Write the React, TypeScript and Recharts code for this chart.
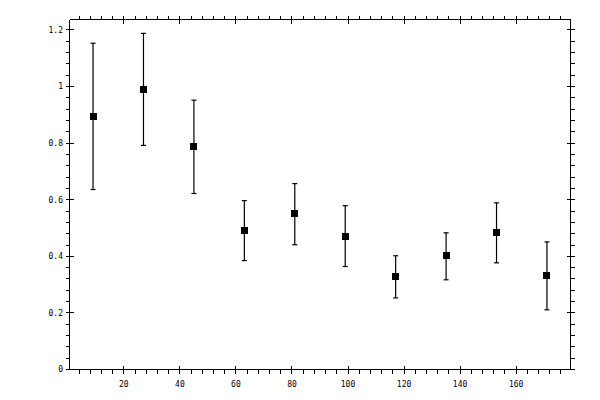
import React from "react";
import { ScatterChart, Scatter, XAxis, YAxis, ErrorBar } from "recharts";

// bin centres and measured values
const binCentres = [9, 27, 45, 63, 81, 99, 117, 135, 153, 171];
const meanValues = [0.894, 0.99, 0.788, 0.491, 0.551, 0.47, 0.327, 0.402, 0.483, 0.331];
const lowValues = [0.636, 0.792, 0.622, 0.385, 0.441, 0.364, 0.253, 0.317, 0.377, 0.211];
const highValues = [1.153, 1.188, 0.952, 0.597, 0.657, 0.579, 0.402, 0.483, 0.589, 0.451];

const xMajorTicks = [20, 40, 60, 80, 100, 120, 140, 160];
const yMajorTicks = [0, 0.2, 0.4, 0.6, 0.8, 1, 1.2];
const yTickLabels = ["0", "0.2", "0.4", "0.6", "0.8", "1", "1.2"];

const X_DOMAIN: [number, number] = [0.6, 179.4];
const Y_DOMAIN: [number, number] = [0, 1.237];

// minor ticks every 4 on x, every 0.04 on y
const xAllTicks = Array.from({ length: 44 }, (_, i) => (i + 1) * 4);
const yAllTicks = Array.from({ length: 31 }, (_, i) => Math.round(i * 4) / 100);

const isMajorX = (v: number) => xMajorTicks.includes(v);
const majorYIndex = (v: number) => yMajorTicks.findIndex((t) => Math.abs(t - v) < 1e-6);

const data = binCentres.map((x, i) => ({
  x,
  y: meanValues[i],
  err: [meanValues[i] - lowValues[i], highValues[i] - meanValues[i]],
}));

const FONT = "'DejaVu Sans Mono', monospace";
const T = 4;

function BottomTick(props: any) {
  const { x, y, payload } = props;
  const major = isMajorX(payload.value);
  return (
    <g>
      <line x1={x} x2={x} y1={major ? y - T : y} y2={y + T} stroke="#000" strokeWidth={1} shapeRendering="crispEdges" />
      {major && (
        <text x={x} y={y + 17} textAnchor="middle" fontSize={8} fontFamily={FONT} fill="#000">
          {payload.value}
        </text>
      )}
    </g>
  );
}

function TopTick(props: any) {
  const { x, y, payload } = props;
  const major = isMajorX(payload.value);
  return <line x1={x} x2={x} y1={y - T} y2={major ? y + T : y} stroke="#000" strokeWidth={1} shapeRendering="crispEdges" />;
}

function LeftTick(props: any) {
  const { x, y, payload } = props;
  const idx = majorYIndex(payload.value);
  return (
    <g>
      <line x1={x - T} x2={idx >= 0 ? x + T : x} y1={y} y2={y} stroke="#000" strokeWidth={1} shapeRendering="crispEdges" />
      {idx >= 0 && (
        <text x={x - 6.5} y={y + 2.8} textAnchor="end" fontSize={8} fontFamily={FONT} fill="#000">
          {yTickLabels[idx]}
        </text>
      )}
    </g>
  );
}

function RightTick(props: any) {
  const { x, y, payload } = props;
  const major = majorYIndex(payload.value) >= 0;
  return <line x1={major ? x - T : x} x2={x + T} y1={y} y2={y} stroke="#000" strokeWidth={1} shapeRendering="crispEdges" />;
}

function SquareMarker(props: any) {
  const { cx, cy } = props;
  return <rect x={cx - 3.5} y={cy - 3.5} width={7} height={7} fill="#000" shapeRendering="crispEdges" />;
}

export default function App() {
  const axisLine = { stroke: "#000", strokeWidth: 1, shapeRendering: "crispEdges" };
  return (
    <div style={{ position: "absolute", left: 0, top: 0, width: 600, height: 400, background: "#fff" }}>
      <ScatterChart
        width={600}
        height={400}
        margin={{ top: 18.5, right: 28.5, bottom: 29.5, left: 68.5 }}
      >
        <XAxis
          xAxisId="bottom"
          dataKey="x"
          type="number"
          orientation="bottom"
          domain={X_DOMAIN}
          allowDataOverflow
          ticks={xAllTicks}
          interval={0}
          height={1}
          tickSize={0}
          tickMargin={0}
          tickLine={false}
          axisLine={axisLine}
          tick={BottomTick}
        />
        <XAxis
          xAxisId="top"
          dataKey="x"
          type="number"
          orientation="top"
          domain={X_DOMAIN}
          allowDataOverflow
          ticks={xAllTicks}
          interval={0}
          height={1}
          tickSize={0}
          tickMargin={0}
          tickLine={false}
          axisLine={axisLine}
          tick={TopTick}
        />
        <YAxis
          yAxisId="left"
          dataKey="y"
          type="number"
          orientation="left"
          domain={Y_DOMAIN}
          allowDataOverflow
          ticks={yAllTicks}
          interval={0}
          width={1}
          tickSize={0}
          tickMargin={0}
          tickLine={false}
          axisLine={axisLine}
          tick={LeftTick}
        />
        <YAxis
          yAxisId="right"
          dataKey="y"
          type="number"
          orientation="right"
          domain={Y_DOMAIN}
          allowDataOverflow
          ticks={yAllTicks}
          interval={0}
          width={1}
          tickSize={0}
          tickMargin={0}
          tickLine={false}
          axisLine={axisLine}
          tick={RightTick}
        />
        <Scatter
          data={data}
          xAxisId="bottom"
          yAxisId="left"
          shape={SquareMarker}
          isAnimationActive={false}
        >
          <ErrorBar dataKey="err" direction="y" width={2.5} stroke="#000" strokeWidth={1.2} />
        </Scatter>
        <Scatter
          data={data}
          xAxisId="top"
          yAxisId="right"
          shape={() => null}
          isAnimationActive={false}
        />
      </ScatterChart>
    </div>
  );
}
